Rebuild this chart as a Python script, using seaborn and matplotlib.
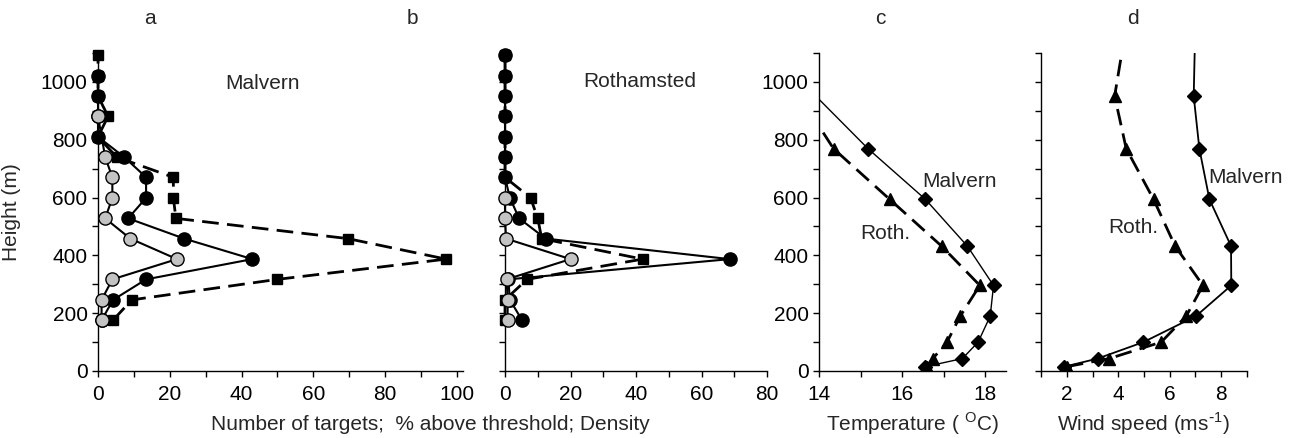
import numpy as np
import pandas as pd
import seaborn as sns
import matplotlib.pyplot as plt
from matplotlib.ticker import MultipleLocator

nan = np.nan

# heights (m) of the radar range gates, panels a and b
heights = [176, 246, 317, 387, 458, 528, 599, 670, 740, 810, 881, 951, 1022, 1092]

# panel a - Malvern
a_targets = [1, 4.2, 13.4, 43, 24, 8.4, 13.4, 13.4, 7.3, 0, 0, 0, 0, nan]
a_above = [1, 1, 4, 22, 9, 2, 4, 4, 2, nan, 0, nan, nan, nan]
a_density = [4.2, 9.4, 50, 97, 69.6, 21.7, 21, 21, 5.2, 0, 2.8, 0, 0, 0]

# panel b - Rothamsted
b_targets = [5.2, 1.5, 1, 68.6, 12.4, 4.3, 1.5, 0, 0, 0, 0, 0, 0, 0]
b_above = [0.8, 0.8, 0.5, 20, 0.3, 0, 0, nan, nan, nan, nan, nan, nan, nan]
b_density = [0, 0, 6.7, 42, 11.2, 10, 7.8, 0, 0, 0, 0, 0, 0, 0]

# panels c, d - met profiles
met_heights = [15, 43, 100, 190, 296, 432, 594, 769, 951, 1150]
temp_malvern = [16.56, 17.45, 17.83, 18.12, 18.2, 17.57, 16.56, 15.18, nan, 12.55]
temp_roth = [16.6, 16.74, 17.08, 17.4, 17.87, 16.95, 15.7, 14.35, nan, 12.64]
wind_malvern = [1.91, 3.2, 4.98, 7.02, 8.39, 8.38, 7.54, 7.15, 6.93, 6.98]
wind_roth = [2.0, 3.65, 5.67, 6.64, 7.29, 6.21, 5.37, 4.31, 3.86, 4.23]

sns.set_style('ticks')
plt.rcParams['font.family'] = ['Liberation Sans', 'DejaVu Sans']
FS = 15

DASH = (0, (6, 3))


def draw(ax, x, y, marker, fc, ms, ls, lw, z, clip=True):
    d = pd.DataFrame({'x': x, 'y': y}).dropna()
    sns.lineplot(data=d, x='x', y='y', orient='y', sort=True, estimator=None,
                 errorbar=None, ax=ax, color='black', marker=marker,
                 markerfacecolor=fc, markeredgecolor='black', markersize=ms,
                 markeredgewidth=1, linestyle=ls, linewidth=lw, zorder=z,
                 clip_on=clip)


fig = plt.figure(figsize=(12.93, 4.38), dpi=100)
W, H = 1293, 438
bottom = (H - 371) / H
height = (371 - 53) / H
ax_a = fig.add_axes([98 / W, bottom, (463 - 98) / W, height])
ax_b = fig.add_axes([505 / W, bottom, (767 - 505) / W, height])
ax_c = fig.add_axes([819 / W, bottom, (1006 - 819) / W, height])
ax_d = fig.add_axes([1041 / W, bottom, (1247 - 1041) / W, height])

for ax, tg, ab, de in [(ax_a, a_targets, a_above, a_density),
                       (ax_b, b_targets, b_above, b_density)]:
    draw(ax, de, heights, 's', 'black', 7, DASH, 2, 3, clip=False)
    draw(ax, tg, heights, 'o', 'black', 9.5, '-', 1.5, 4, clip=False)
    draw(ax, ab, heights, 'o', '#c3c3c3', 9.5, '-', 1.5, 5, clip=False)

draw(ax_c, temp_malvern, met_heights, 'D', 'black', 6.8, '-', 1, 3)
draw(ax_c, temp_roth, met_heights, '^', 'black', 8.5, DASH, 2, 3)
draw(ax_d, wind_malvern, met_heights, 'D', 'black', 6.8, '-', 1.3, 3)
draw(ax_d, wind_roth, met_heights, '^', 'black', 8.5, DASH, 2, 3)

ax_a.set_xlim(0, 101.7)
ax_b.set_xlim(0, 80)
ax_c.set_xlim(14, 18.5)
ax_d.set_xlim(1, 9)
ax_a.xaxis.set_major_locator(MultipleLocator(20))
ax_a.xaxis.set_minor_locator(MultipleLocator(10))
ax_b.xaxis.set_major_locator(MultipleLocator(20))
ax_b.xaxis.set_minor_locator(MultipleLocator(10))
ax_c.xaxis.set_major_locator(MultipleLocator(2))
ax_c.xaxis.set_minor_locator(MultipleLocator(1))
ax_d.xaxis.set_major_locator(MultipleLocator(2))
ax_d.xaxis.set_minor_locator(MultipleLocator(1))

for ax in [ax_a, ax_b, ax_c, ax_d]:
    ax.set_ylim(0, 1100)
    ax.yaxis.set_major_locator(MultipleLocator(200))
    ax.yaxis.set_minor_locator(MultipleLocator(100))
    ax.set_xlabel('')
    ax.set_ylabel('')
    ax.tick_params(which='both', direction='out', length=4, width=1,
                   colors='black', labelsize=FS)
    ax.tick_params(axis='x', pad=6)
    for s in ['left', 'bottom']:
        ax.spines[s].set_linewidth(1)
        ax.spines[s].set_color('black')
    sns.despine(ax=ax)

ax_b.tick_params(labelleft=False)
ax_d.tick_params(labelleft=False)

ax_a.text(45.7, 993, 'Malvern', ha='center', va='center', fontsize=FS)
ax_b.text(41, 1000, 'Rothamsted', ha='center', va='center', fontsize=FS)
ax_c.text(17.38, 654, 'Malvern', ha='center', va='center', fontsize=FS)
ax_c.text(15.6, 477, 'Roth.', ha='center', va='center', fontsize=FS)
ax_d.text(8.93, 671, 'Malvern', ha='center', va='center', fontsize=FS)
ax_d.text(4.6, 495, 'Roth.', ha='center', va='center', fontsize=FS)

for lab, px in [('a', 150), ('b', 412), ('c', 880), ('d', 1133)]:
    fig.text(px / W, 1 - 18 / H, lab, ha='center', va='center', fontsize=FS)

fig.text(12 / W, 1 - 212 / H, 'Height (m)', rotation=90, ha='center',
         va='center', fontsize=FS)
fig.text(430 / W, 1 - 424 / H, 'Number of targets;  % above threshold; Density',
         ha='center', va='center', fontsize=FS)
fig.text(912 / W, 1 - 424 / H, 'Temperature ( $^{\\mathregular{O}}$C)',
         ha='center', va='center', fontsize=FS)
fig.text(1143 / W, 1 - 424 / H, 'Wind speed (ms$^{\\mathregular{\\text{-}1}}$)',
         ha='center', va='center', fontsize=FS)

fig.savefig('out.png', dpi=100)
